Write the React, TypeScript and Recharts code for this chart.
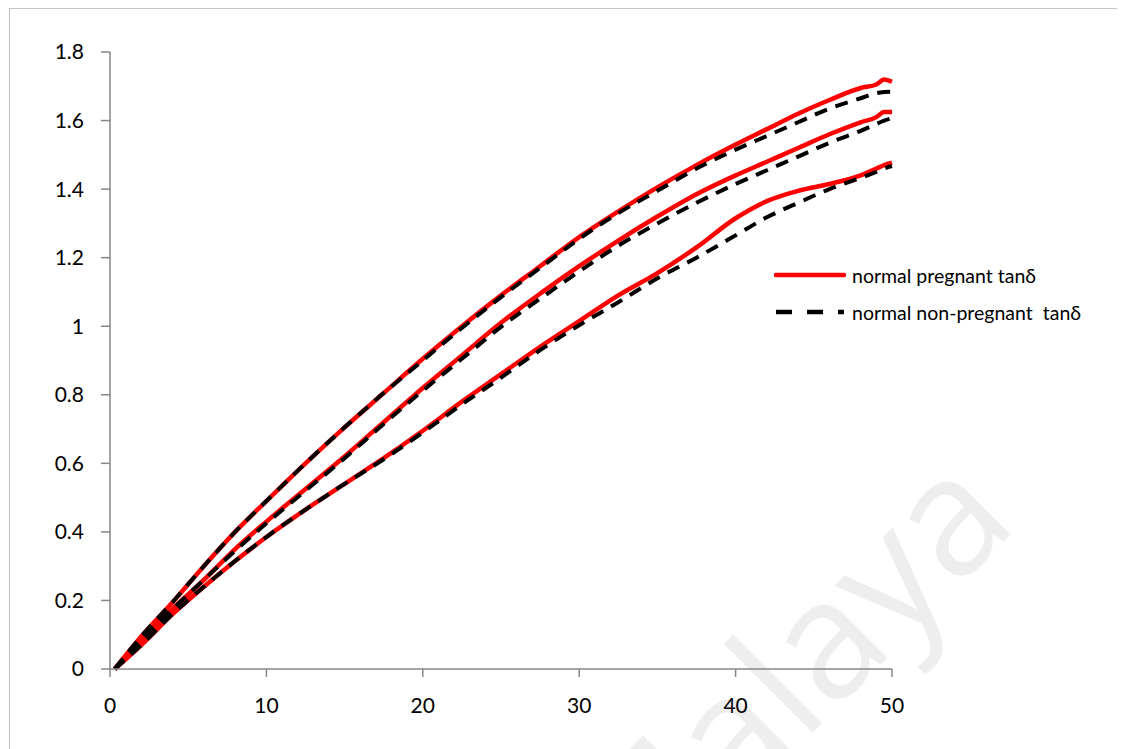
import { LineChart, Line, XAxis, YAxis } from "recharts";

// load (x) sampled along each run
const LOAD = [0.3, 2, 4, 6, 8, 10, 12.5, 15, 17.5, 20, 22.5, 25, 27.5, 30, 32.5, 35, 37.5, 40, 42, 44, 46, 48, 49, 49.5, 50];

// normal pregnant tanδ – three runs
const PREG_A = [0, 0.095, 0.195, 0.3, 0.4, 0.49, 0.6, 0.705, 0.805, 0.905, 1.0, 1.09, 1.175, 1.26, 1.335, 1.405, 1.47, 1.53, 1.575, 1.62, 1.66, 1.695, 1.705, 1.72, 1.713];
const PREG_B = [0, 0.085, 0.175, 0.26, 0.35, 0.43, 0.525, 0.62, 0.72, 0.82, 0.915, 1.01, 1.095, 1.175, 1.25, 1.32, 1.385, 1.44, 1.48, 1.52, 1.56, 1.595, 1.61, 1.625, 1.625];
const PREG_C = [0, 0.07, 0.16, 0.24, 0.315, 0.385, 0.465, 0.54, 0.615, 0.695, 0.78, 0.86, 0.94, 1.015, 1.09, 1.155, 1.23, 1.315, 1.365, 1.395, 1.415, 1.44, 1.46, 1.47, 1.477];

// normal non-pregnant tanδ – three runs
const NONPREG_A = [0, 0.095, 0.195, 0.3, 0.4, 0.49, 0.6, 0.705, 0.805, 0.9, 0.995, 1.085, 1.17, 1.255, 1.33, 1.395, 1.46, 1.515, 1.555, 1.595, 1.635, 1.665, 1.68, 1.683, 1.684];
const NONPREG_B = [0, 0.085, 0.175, 0.26, 0.345, 0.425, 0.52, 0.615, 0.715, 0.812, 0.905, 0.998, 1.08, 1.16, 1.235, 1.3, 1.36, 1.415, 1.455, 1.495, 1.535, 1.57, 1.59, 1.6, 1.607];
const NONPREG_C = [0, 0.07, 0.16, 0.24, 0.315, 0.385, 0.465, 0.54, 0.612, 0.69, 0.772, 0.85, 0.93, 1.003, 1.07, 1.14, 1.2, 1.265, 1.318, 1.36, 1.4, 1.433, 1.45, 1.46, 1.467];

const X_TICKS = [0, 10, 20, 30, 40, 50];
const Y_TICKS = [0, 0.2, 0.4, 0.6, 0.8, 1, 1.2, 1.4, 1.6, 1.8];

const data = LOAD.map((x, i) => ({
  x,
  pa: PREG_A[i],
  pb: PREG_B[i],
  pc: PREG_C[i],
  na: NONPREG_A[i],
  nb: NONPREG_B[i],
  nc: NONPREG_C[i],
}));

const FONT = "Lato, 'Open Sans', sans-serif";
const AXIS = "#878787";
const RED = "#ff0000";
const DASH = "13 9";

function LegendBox() {
  const row = { display: "flex", alignItems: "center", height: 26, marginBottom: 11 };
  const label = { fontFamily: FONT, fontSize: 19.5, color: "#000", marginLeft: 6, whiteSpace: "pre" as const };
  return (
    <div style={{ position: "absolute", left: 764, top: 253 }}>
      <div style={row}>
        <svg width={72} height={10}>
          <line x1={2} y1={5} x2={70} y2={5} stroke={RED} strokeWidth={4.5} strokeLinecap="round" />
        </svg>
        <span style={label}>normal pregnant tanδ</span>
      </div>
      <div style={row}>
        <svg width={72} height={10}>
          <line x1={2} y1={5} x2={70} y2={5} stroke="#000" strokeWidth={4.5} strokeDasharray="16 15" />
        </svg>
        <span style={label}>normal non-pregnant  tanδ</span>
      </div>
    </div>
  );
}

export default function App() {
  const tick = { fill: "#000", fontSize: 21, fontFamily: FONT };
  return (
    <div
      style={{
        position: "relative",
        marginLeft: 1,
        width: 1111,
        height: 740,
        borderTop: "1px solid #c4c4c4",
        borderLeft: "1px solid #c4c4c4",
        borderRight: "1px solid #c4c4c4",
        background: "#fff",
        overflow: "hidden",
      }}
    >
      {/* faint diagonal watermark behind the plot */}
      <svg width={1111} height={740} style={{ position: "absolute", left: 0, top: 0 }}>
        <text
          x={1010}
          y={516}
          textAnchor="end"
          fontSize={165}
          fontFamily="'Open Sans', sans-serif"
          fill="#eeeeee"
          transform="rotate(-45 1010 516)"
        >
          Malaya
        </text>
      </svg>
      <div style={{ position: "absolute", left: 0, top: 0 }}>
        <LineChart width={1111} height={740} data={data} margin={{ top: 43, right: 229, left: 30, bottom: 40 }}>
          <XAxis
            dataKey="x"
            type="number"
            domain={[0, 50]}
            ticks={X_TICKS}
            stroke={AXIS}
            strokeWidth={1.5}
            tickSize={8}
            tickMargin={21}
            height={40}
            tick={tick}
          />
          <YAxis
            type="number"
            domain={[0, 1.8]}
            ticks={Y_TICKS}
            stroke={AXIS}
            strokeWidth={1.5}
            tickSize={9}
            tickMargin={17}
            width={70}
            tick={tick}
          />
          <Line type="monotone" dataKey="pa" stroke={RED} strokeWidth={4.5} dot={false} activeDot={false} isAnimationActive={false} />
          <Line type="monotone" dataKey="pb" stroke={RED} strokeWidth={4.5} dot={false} activeDot={false} isAnimationActive={false} />
          <Line type="monotone" dataKey="pc" stroke={RED} strokeWidth={4.5} dot={false} activeDot={false} isAnimationActive={false} />
          <Line type="monotone" dataKey="na" stroke="#000" strokeWidth={4} strokeDasharray={DASH} dot={false} activeDot={false} isAnimationActive={false} />
          <Line type="monotone" dataKey="nb" stroke="#000" strokeWidth={4} strokeDasharray={DASH} dot={false} activeDot={false} isAnimationActive={false} />
          <Line type="monotone" dataKey="nc" stroke="#000" strokeWidth={4} strokeDasharray={DASH} dot={false} activeDot={false} isAnimationActive={false} />
        </LineChart>
      </div>
      <LegendBox />
    </div>
  );
}
